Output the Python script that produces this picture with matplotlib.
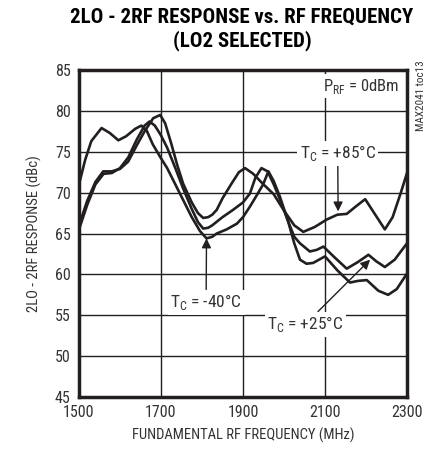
import matplotlib.pyplot as plt

plt.rcParams['font.family'] = ['Roboto Condensed', 'DejaVu Sans']
plt.rcParams['mathtext.fontset'] = 'custom'
plt.rcParams['mathtext.rm'] = 'Roboto Condensed'

# T = -40C
f_m40 = [1500, 1515, 1530, 1555, 1575, 1596, 1615, 1637, 1652, 1665, 1680, 1700,
         1715, 1735, 1754, 1775, 1795, 1811, 1825, 1836, 1860, 1885, 1900, 1917,
         1935, 1949, 1962, 1975, 1990, 2010, 2025, 2039, 2055, 2071, 2100, 2130,
         2161, 2180, 2202, 2230, 2254, 2275, 2300]
r_m40 = [71.0, 74.0, 76.3, 77.9, 77.3, 76.4, 76.9, 77.8, 78.2, 77.6, 75.9, 74.2,
         73.0, 71.0, 69.1, 67.0, 65.3, 64.4, 64.6, 65.0, 65.5, 66.2, 67.0, 68.3,
         69.8, 71.0, 72.6, 71.4, 69.5, 66.5, 63.8, 61.8, 61.3, 61.4, 62.2, 60.5,
         59.0, 59.2, 59.3, 58.0, 57.5, 58.2, 60.1]

# T = +25C
f_p25 = [1500, 1520, 1540, 1560, 1580, 1600, 1620, 1641, 1660, 1672, 1685, 1700,
         1715, 1735, 1754, 1775, 1790, 1803, 1815, 1825, 1850, 1876, 1900, 1917,
         1930, 1945, 1960, 1975, 1990, 2010, 2025, 2039, 2063, 2080, 2096, 2125,
         2153, 2180, 2206, 2225, 2246, 2270, 2300]
r_p25 = [65.5, 68.5, 71.0, 72.3, 72.4, 73.0, 74.3, 76.5, 78.2, 78.7, 78.2, 77.0,
         75.5, 73.0, 70.5, 68.0, 66.4, 65.6, 65.7, 66.0, 67.0, 67.9, 68.8, 69.9,
         71.8, 73.0, 72.6, 71.0, 69.2, 66.5, 64.6, 63.8, 62.8, 63.0, 63.4, 62.0,
         60.7, 61.5, 62.4, 61.6, 60.9, 61.8, 63.8]

# T = +85C
f_p85 = [1500, 1520, 1540, 1559, 1580, 1600, 1620, 1641, 1660, 1681, 1698, 1710,
         1725, 1740, 1754, 1775, 1790, 1803, 1815, 1825, 1836, 1850, 1872, 1890,
         1905, 1925, 1950, 1975, 2000, 2025, 2047, 2075, 2104, 2130, 2153, 2175,
         2198, 2220, 2246, 2265, 2285, 2300]
r_p85 = [66.0, 69.0, 71.3, 72.6, 72.6, 72.9, 73.8, 75.8, 77.5, 79.1, 79.5, 78.5,
         76.0, 73.3, 71.1, 68.8, 67.5, 66.9, 67.0, 67.3, 67.9, 69.3, 71.1, 72.5,
         73.0, 72.3, 71.0, 69.8, 67.8, 66.0, 65.2, 65.8, 66.7, 67.3, 67.4, 68.3,
         69.2, 67.5, 65.5, 67.0, 70.0, 72.4]

xticks = [1500, 1700, 1900, 2100, 2300]
yticks = [45, 50, 55, 60, 65, 70, 75, 80, 85]

fig = plt.figure(figsize=(4.26, 4.59), dpi=100)
ax = fig.add_axes([79/426, 1-397/459, 328/426, 327/459])

for f, r in [(f_m40, r_m40), (f_p25, r_p25), (f_p85, r_p85)]:
    ax.plot(f, r, color='#231f20', lw=1.9, solid_joinstyle='round',
            solid_capstyle='round', zorder=3)

ax.set_xlim(1500, 2300)
ax.set_ylim(45, 85)
ax.set_xticks(xticks)
ax.set_yticks(yticks)
ax.grid(True, color='#231f20', lw=1.0)
ax.tick_params(length=0, labelsize=11.5, labelcolor='#333333', pad=6)
for s in ax.spines.values():
    s.set_linewidth(2.5)
    s.set_color('#231f20')

ax.set_xlabel('FUNDAMENTAL RF FREQUENCY (MHz)', fontsize=10.5, color='#333333', labelpad=5)
ax.set_ylabel('2LO - 2RF RESPONSE (dBc)', fontsize=10.5, color='#333333', labelpad=9)

fig.text(0.568, 0.963, '2LO - 2RF RESPONSE vs. RF FREQUENCY', ha='center', va='center',
         fontsize=15, fontweight='heavy')
fig.text(0.568, 0.911, '(LO2 SELECTED)', ha='center', va='center',
         fontsize=15, fontweight='heavy')

box = dict(boxstyle='square,pad=0.15', fc='white', ec='none')
ax.text(2280, 83.0, r'P$_{\mathrm{RF}}$ = 0dBm', ha='right', va='center',
        fontsize=12, color='#333333', bbox=box, zorder=4)
fig.text(0.976, 0.869, 'MAX2041 toc13', rotation=90, ha='left', va='top',
         fontsize=8, color='#333333')

arrow = dict(arrowstyle='-|>', color='#231f20', lw=1.0, mutation_scale=14,
             shrinkA=0, shrinkB=0)
ax.annotate(r'T$_{\mathrm{C}}$ = +85°C', xy=(2132, 67.7), xytext=(2131, 74.8),
            ha='center', va='center', fontsize=12.5, color='#333333', bbox=box,
            arrowprops=arrow, zorder=4)
ax.annotate(r'T$_{\mathrm{C}}$ = -40°C', xy=(1811, 64.4), xytext=(1810, 56.6),
            ha='center', va='center', fontsize=12.5, color='#333333', bbox=box,
            arrowprops=arrow, zorder=4)
ax.annotate(r'T$_{\mathrm{C}}$ = +25°C', xy=(2210, 61.8), xytext=(2052, 53.9),
            ha='center', va='center', fontsize=12.5, color='#333333', bbox=box,
            arrowprops=arrow, zorder=4)

fig.savefig('out.png', dpi=100)
